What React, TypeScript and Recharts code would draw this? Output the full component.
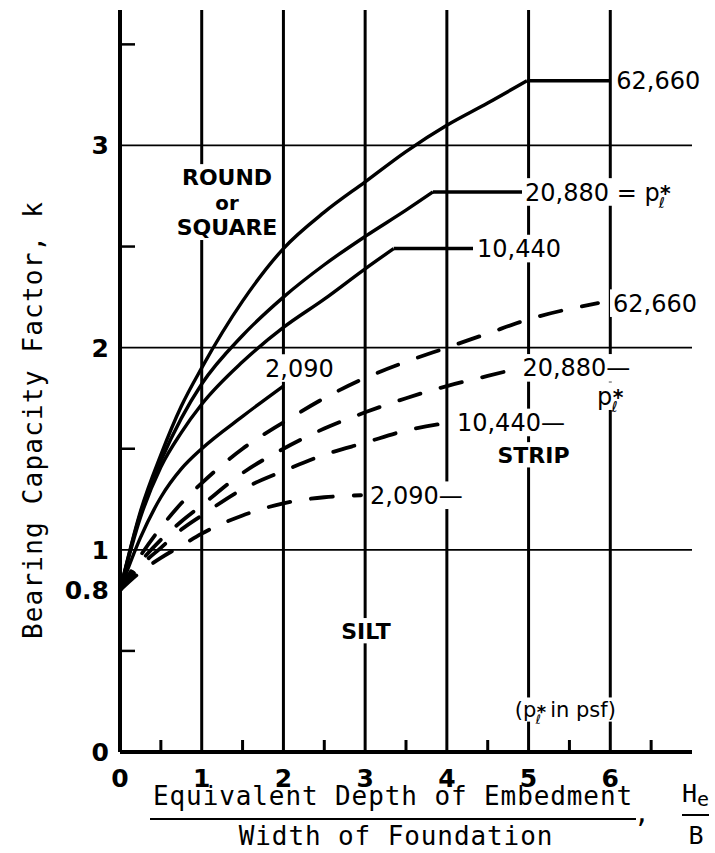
import { ComposedChart, Line, Scatter, XAxis, YAxis, CartesianGrid } from "recharts"

const X_LABEL_TICKS = [0, 1, 2, 3, 4, 5, 6]
const X_MINOR_TICKS = [0.5, 1.5, 2.5, 3.5, 4.5, 5.5, 6.5]
const Y_LABEL_TICKS = [0, 0.8, 1, 2, 3]
const Y_MINOR_TICKS = [0.5, 1.5, 2.5, 3.5]
const GRID_X = [1, 2, 3, 4, 5, 6]
const GRID_Y = [1, 2, 3]

// limit pressure p*l in psf, one curve each
const PRESSURES = ["62,660", "20,880", "10,440", "2,090"]

// round or square footings (solid), [He/B, k]
const ROUND_62660 = [[0, 0.8], [0.25, 1.19], [0.5, 1.47], [0.75, 1.71], [1, 1.9], [1.5, 2.23], [2, 2.49], [2.5, 2.67], [3, 2.82], [3.5, 2.97], [4, 3.1], [4.5, 3.21], [4.98, 3.32]]
const ROUND_20880 = [[0, 0.8], [0.25, 1.18], [0.5, 1.44], [0.75, 1.65], [1, 1.82], [1.5, 2.06], [2, 2.25], [2.5, 2.41], [3, 2.55], [3.5, 2.68], [3.83, 2.77]]
const ROUND_10440 = [[0, 0.8], [0.25, 1.16], [0.5, 1.41], [0.75, 1.58], [1, 1.72], [1.5, 1.93], [2, 2.1], [2.5, 2.24], [3, 2.39], [3.35, 2.49]]
const ROUND_2090 = [[0, 0.8], [0.25, 1.06], [0.5, 1.26], [0.75, 1.4], [1, 1.5], [1.5, 1.66], [2, 1.81]]
// the round curves run flat out to these He/B values
const ROUND_FLAT_TO = [6, 4.92, 4.32, null]

// strip footings (dashed)
const STRIP_62660 = [[0, 0.8], [0.25, 0.97], [0.5, 1.11], [0.75, 1.23], [1, 1.33], [1.5, 1.5], [2, 1.63], [2.5, 1.75], [3, 1.85], [3.5, 1.93], [4, 2.0], [4.5, 2.07], [5, 2.14], [5.85, 2.22]]
const STRIP_20880 = [[0, 0.8], [0.25, 0.94], [0.5, 1.05], [0.75, 1.14], [1, 1.22], [1.5, 1.38], [2, 1.5], [2.5, 1.6], [3, 1.68], [3.5, 1.75], [4, 1.81], [4.5, 1.86], [4.9, 1.9]]
const STRIP_10440 = [[0, 0.8], [0.25, 0.92], [0.5, 1.01], [0.75, 1.1], [1, 1.17], [1.5, 1.3], [2, 1.39], [2.5, 1.47], [3, 1.53], [3.5, 1.59], [4.05, 1.63]]
const STRIP_2090 = [[0, 0.8], [0.25, 0.89], [0.5, 0.96], [0.75, 1.02], [1, 1.08], [1.5, 1.17], [2, 1.23], [2.5, 1.26], [2.95, 1.27]]

const ROUND_CURVES = [ROUND_62660, ROUND_20880, ROUND_10440, ROUND_2090]
const STRIP_CURVES = [STRIP_62660, STRIP_20880, STRIP_10440, STRIP_2090]

// text notes placed on the plot, {pl} is the p*l symbol
const REGION_NAMES = [
  { text: "ROUND\nor\nSQUARE", x: 1.31, y: 2.72 },
  { text: "STRIP", x: 5.06, y: 1.47 },
  { text: "SILT", x: 3.01, y: 0.6 },
]
const SYMBOL_NOTES = [
  { text: "{pl}", x: 6.0, y: 1.76 },
  { text: "({pl} in psf)", x: 5.45, y: 0.21 },
]

const FONT = "DejaVu Sans"
const MONO = "DejaVu Sans Mono"

const ROUND_LABEL_POS = [
  { dx: 6, dy: 0, anchor: "start" },
  { dx: 3, dy: 0, anchor: "start" },
  { dx: 4, dy: 0, anchor: "start" },
  { dx: 16, dy: -18, anchor: "middle" },
]
const STRIP_LABEL_POS = [
  { dx: 15, dy: 0, anchor: "start" },
  { dx: 2, dy: 0, anchor: "start" },
  { dx: 6, dy: 0, anchor: "start" },
  { dx: 9, dy: 0, anchor: "start" },
]

const toPts = (pairs: number[][]) => pairs.map(([x, y]) => ({ x, y }))

function charEm(ch: string) {
  if (/[0-9]/.test(ch)) return 0.64
  if (",. ()".includes(ch)) return 0.34
  if (ch === "—") return 1
  if (ch === "=") return 0.84
  if (/[A-Z]/.test(ch)) return 0.76
  return 0.6
}

function textWidth(s: string, fs: number) {
  let w = 0
  s.split("{pl}").forEach((part, i) => {
    if (i > 0) w += 1.0 * fs
    for (const ch of part) w += charEm(ch) * fs
  })
  return w
}

// p with a star above and a script l below, written as one run of tspans
function richText(s: string, fs: number) {
  const out: any[] = []
  let shift = 0
  s.split("{pl}").forEach((part, i) => {
    if (i > 0) {
      out.push(<tspan key={"p" + i} dy={-shift}>p</tspan>)
      out.push(<tspan key={"s" + i} fontSize={fs * 0.85} fontWeight="bold" dx={fs * 0.02} dy={fs * 0.02}>*</tspan>)
      out.push(<tspan key={"l" + i} fontSize={fs * 0.62} dx={-fs * 0.5} dy={fs * 0.3}>ℓ</tspan>)
      shift = fs * 0.32
    }
    if (part) {
      out.push(<tspan key={"t" + i} fontSize={fs} dx={i > 0 ? fs * 0.12 : 0} dy={-shift}>{part}</tspan>)
      shift = 0
    }
  })
  return out
}

function Note(props: any) {
  const { cx, cy } = props
  const n = props.payload ?? props
  if (cx == null || cy == null || !n || !n.text) return null
  const fs = n.size
  const lines = String(n.text).split("\n")
  const lh = fs * 1.15
  const w = Math.max(...lines.map((l) => textWidth(l, fs)))
  const x0 = cx + n.dx
  const y0 = cy + n.dy
  const left = n.anchor === "middle" ? x0 - w / 2 : x0
  const top = y0 - (lines.length * lh) / 2
  return (
    <g>
      <rect x={left - 3} y={top} width={w + 6} height={lines.length * lh} fill="#fff" />
      {lines.map((l, i) => (
        <text
          key={i}
          x={x0}
          y={top + lh * i + lh / 2 + fs * 0.36}
          textAnchor={n.anchor}
          fontFamily={FONT}
          fontSize={fs}
          fontWeight={n.bold ? "bold" : "normal"}
          fill="#000"
        >
          {richText(l, l === "or" ? fs * 0.9 : fs)}
        </text>
      ))}
    </g>
  )
}

function XTick(props: any) {
  const { x, y, payload } = props
  const v = payload.value
  if (X_MINOR_TICKS.includes(v)) {
    return <line x1={x} x2={x} y1={y} y2={y - 12} stroke="#000" strokeWidth={3} />
  }
  return (
    <text x={x} y={y + 35} textAnchor="middle" fontFamily={FONT} fontWeight="bold" fontSize={25} fill="#000">
      {v}
    </text>
  )
}

function YTick(props: any) {
  const { x, y, payload } = props
  const v = payload.value
  if (Y_MINOR_TICKS.includes(v)) {
    return <line x1={x} x2={x + 15} y1={y} y2={y} stroke="#000" strokeWidth={2.5} />
  }
  return (
    <text x={x - 11} y={y + 9} textAnchor="end" fontFamily={FONT} fontWeight="bold" fontSize={25} fill="#000">
      {v}
    </text>
  )
}

function XTitle(props: any) {
  const vb = props.viewBox ?? { x: 120, y: 752 }
  const { x, y } = vb
  return (
    <g fontFamily={MONO} fill="#000">
      <text x={x + 273} y={y + 53} textAnchor="middle" fontSize={26} letterSpacing={0.9}>
        Equivalent Depth of Embedment
      </text>
      <line x1={x + 30} x2={x + 516} y1={y + 67} y2={y + 67} stroke="#000" strokeWidth={2} />
      <text x={x + 276} y={y + 93} textAnchor="middle" fontSize={26} letterSpacing={0.9}>
        Width of Foundation
      </text>
      <text x={x + 514} y={y + 70} fontSize={26}>,</text>
      <text x={x + 562} y={y + 50} fontSize={25}>
        H<tspan fontSize={20} dy={4}>e</tspan>
      </text>
      <line x1={x + 562} x2={x + 589} y1={y + 63} y2={y + 63} stroke="#000" strokeWidth={2} />
      <text x={x + 576} y={y + 92} textAnchor="middle" fontSize={25}>B</text>
    </g>
  )
}

function YTitle(props: any) {
  const vb = props.viewBox ?? { x: 0, y: 10, height: 742 }
  const cx = vb.x + 42
  const cy = vb.y + vb.height / 2 + 39
  return (
    <text
      transform={`translate(${cx},${cy}) rotate(-90)`}
      textAnchor="middle"
      fontFamily={MONO}
      fontSize={26}
      letterSpacing={1.2}
      fill="#000"
    >
      Bearing Capacity Factor, k
    </text>
  )
}

export default function App() {
  const notes: any[] = []
  ROUND_CURVES.forEach((c, i) => {
    const last = c[c.length - 1]
    const endX = ROUND_FLAT_TO[i] ?? last[0]
    const text = i === 1 ? `${PRESSURES[i]} = {pl}` : PRESSURES[i]
    notes.push({ x: endX, y: last[1], text, size: 24, bold: false, ...ROUND_LABEL_POS[i] })
  })
  STRIP_CURVES.forEach((c, i) => {
    const last = c[c.length - 1]
    const text = i === 0 ? PRESSURES[i] : `${PRESSURES[i]}—`
    notes.push({ x: last[0], y: last[1], text, size: 24, bold: false, ...STRIP_LABEL_POS[i] })
  })
  REGION_NAMES.forEach((r) => notes.push({ ...r, size: 22, bold: true, dx: 0, dy: 0, anchor: "middle" }))
  notes.push({ ...SYMBOL_NOTES[0], size: 24, bold: false, dx: 0, dy: 0, anchor: "middle" })
  notes.push({ ...SYMBOL_NOTES[1], size: 21, bold: false, dx: 0, dy: 0, anchor: "middle" })

  return (
    <div style={{ position: "absolute", left: 0, top: 0, width: 715, height: 853, background: "#fff" }}>
      <ComposedChart width={715} height={853} margin={{ top: 10, right: 23, bottom: 0, left: 0 }}>
        <CartesianGrid vertical horizontal={false} verticalValues={GRID_X} stroke="#000" strokeWidth={3} />
        <CartesianGrid vertical={false} horizontal horizontalValues={GRID_Y} stroke="#000" strokeWidth={1.8} />
        <XAxis
          dataKey="x"
          type="number"
          domain={[0, 7]}
          ticks={[...X_LABEL_TICKS, ...X_MINOR_TICKS].sort((a, b) => a - b)}
          interval={0}
          tick={<XTick />}
          tickLine={false}
          tickSize={0}
          tickMargin={0}
          axisLine={{ stroke: "#000", strokeWidth: 4 }}
          height={101}
          label={{ content: XTitle }}
        />
        <YAxis
          dataKey="y"
          type="number"
          domain={[0, 3.67]}
          ticks={[...Y_LABEL_TICKS, ...Y_MINOR_TICKS].sort((a, b) => a - b)}
          interval={0}
          tick={<YTick />}
          tickLine={false}
          tickSize={0}
          tickMargin={0}
          axisLine={{ stroke: "#000", strokeWidth: 4 }}
          width={120}
          label={{ content: YTitle }}
        />
        <Scatter data={notes} dataKey="y" shape={(p: any) => <Note {...p} />} isAnimationActive={false} />
        {ROUND_CURVES.map((c, i) => (
          <Line
            key={"r" + i}
            data={toPts(c)}
            dataKey="y"
            type="monotone"
            stroke="#000"
            strokeWidth={3.4}
            dot={false}
            activeDot={false}
            isAnimationActive={false}
          />
        ))}
        {ROUND_CURVES.map((c, i) => {
          const to = ROUND_FLAT_TO[i]
          if (to == null) return null
          const last = c[c.length - 1]
          return (
            <Line
              key={"f" + i}
              data={toPts([last, [to, last[1]]])}
              dataKey="y"
              type="linear"
              stroke="#000"
              strokeWidth={3.4}
              dot={false}
              activeDot={false}
              isAnimationActive={false}
            />
          )
        })}
        {STRIP_CURVES.map((c, i) => (
          <Line
            key={"s" + i}
            data={toPts(c)}
            dataKey="y"
            type="monotone"
            stroke="#000"
            strokeWidth={3.8}
            strokeDasharray="22 21"
            strokeLinecap="round"
            dot={false}
            activeDot={false}
            isAnimationActive={false}
          />
        ))}
      </ComposedChart>
    </div>
  )
}
